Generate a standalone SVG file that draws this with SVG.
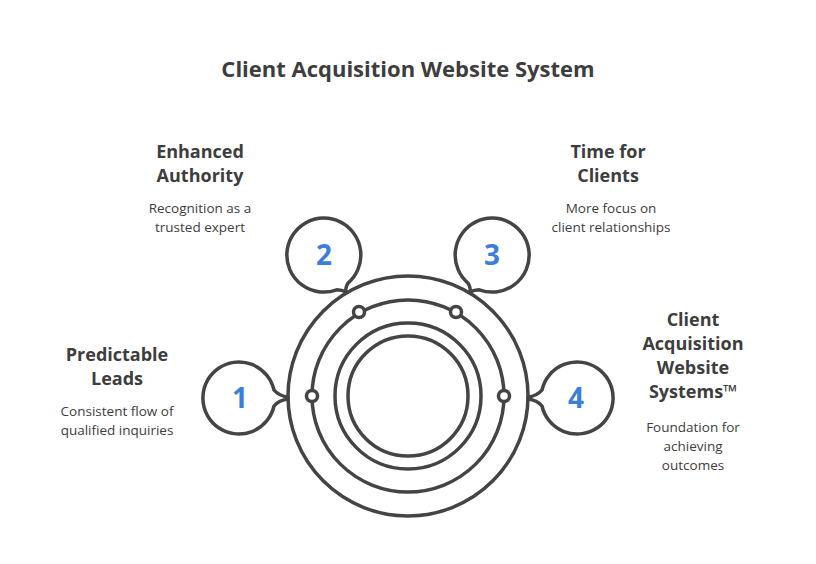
<svg xmlns="http://www.w3.org/2000/svg" width="816" height="564" viewBox="0 0 816 564">
<style>
.s{fill:none;stroke:#444;stroke-width:3.5;stroke-linecap:round;stroke-linejoin:round}
.b{fill:#fff;stroke:#444;stroke-width:3.5;stroke-linejoin:round}
.t{font-family:"Open Sans",sans-serif;fill:#3d3d3d}
.h{font-weight:bold;font-size:18px;text-anchor:middle}
.d{font-size:13.5px;text-anchor:middle}
.n{font-family:"Open Sans",sans-serif;font-weight:bold;font-size:28px;fill:#3c7fd9;text-anchor:middle}
</style>
<rect width="816" height="564" fill="#fff"/>
<text class="t" x="408" y="77" font-size="22" font-weight="bold" text-anchor="middle">Client Acquisition Website System</text>
<g id="center">
<circle class="s" cx="408" cy="396" r="120"/>
<circle class="s" cx="408" cy="396" r="96" stroke-width="2.5"/>
<circle class="s" cx="408" cy="396" r="73"/>
<circle class="s" cx="408" cy="396" r="60"/>
<circle class="b" cx="312" cy="396" r="5.5" stroke-width="3"/>
<circle class="b" cx="359" cy="312" r="5.5" stroke-width="3"/>
<circle class="b" cx="456" cy="312" r="5.5" stroke-width="3"/>
<circle class="b" cx="504" cy="396" r="5.5" stroke-width="3"/>
</g>
<g id="b1">
<path class="b" d="M274 390 A36 36 0 1 0 274 406 Q279 400 288 399 L288 397 Q279 396 274 390 Z"/>
<text class="n" x="240" y="408">1</text>
<text class="t h" x="117" y="361">Predictable</text>
<text class="t h" x="117" y="385">Leads</text>
<text class="t d" x="117" y="416">Consistent flow of</text>
<text class="t d" x="117" y="435">qualified inquiries</text>
</g>
<g id="b2">
<path class="b" d="M347.8 283.3 A37 37 0 1 0 336.7 289.8 Q342 290 346 292 Q345 288 347.8 283.3 Z"/>
<text class="n" x="324" y="265">2</text>
<text class="t h" x="200" y="158">Enhanced</text>
<text class="t h" x="200" y="182">Authority</text>
<text class="t d" x="200" y="213">Recognition as a</text>
<text class="t d" x="200" y="232">trusted expert</text>
</g>
<g id="b3">
<path class="b" d="M468.2 283.3 A37 37 0 1 1 479.3 289.8 Q474 290 470 292 Q471 288 468.2 283.3 Z"/>
<text class="n" x="492" y="265">3</text>
<text class="t h" x="608" y="158">Time for</text>
<text class="t h" x="608" y="182">Clients</text>
<text class="t d" x="611" y="213">More focus on</text>
<text class="t d" x="611" y="232">client relationships</text>
</g>
<g id="b4">
<path class="b" d="M542 390 A36 36 0 1 1 542 406 Q537 400 528 399 L528 397 Q537 396 542 390 Z"/>
<text class="n" x="576" y="408">4</text>
<text class="t h" x="693" y="326">Client</text>
<text class="t h" x="693" y="350">Acquisition</text>
<text class="t h" x="693" y="374">Website</text>
<text class="t h" x="693" y="398">Systems™</text>
<text class="t d" x="693" y="432">Foundation for</text>
<text class="t d" x="693" y="451">achieving</text>
<text class="t d" x="693" y="470">outcomes</text>
</g>
<g id="connectors"/>
</svg>
